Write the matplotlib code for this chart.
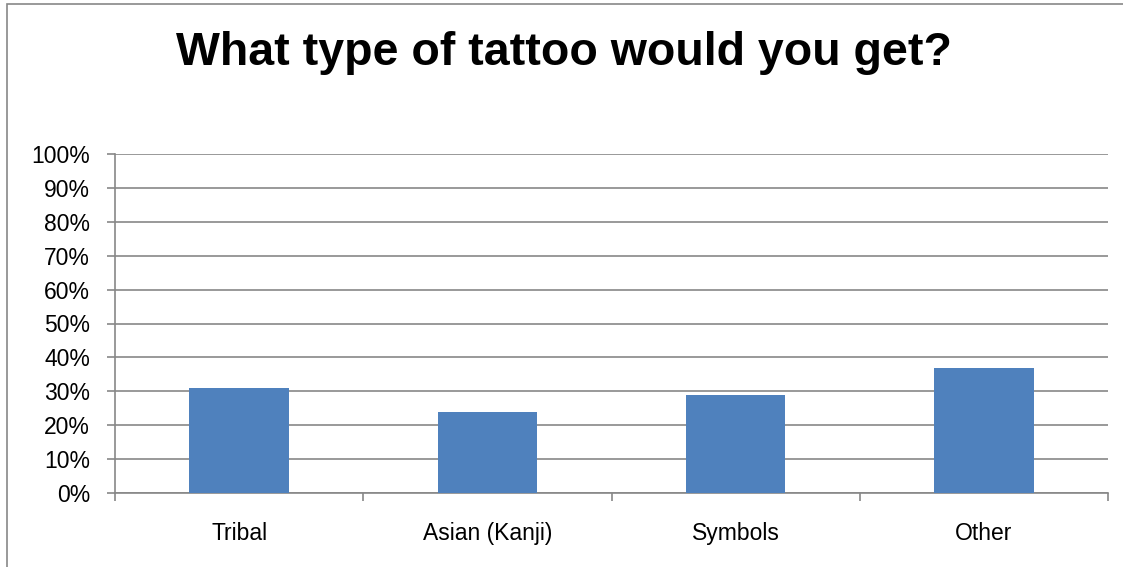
import matplotlib
matplotlib.use("Agg")
import matplotlib.pyplot as plt
from matplotlib.patches import Rectangle
from matplotlib.ticker import FixedLocator, PercentFormatter

categories = ["Tribal", "Asian (Kanji)", "Symbols", "Other"]
shares = [31, 24, 29, 37]
y_ticks = list(range(0, 101, 10))

plt.rcParams['font.family'] = ['Liberation Sans', 'DejaVu Sans']

W, H = 1123, 567
fig = plt.figure(figsize=(W / 100, H / 100), dpi=100)
ax = fig.add_axes([115 / W, 1 - 493 / H, (1108 - 115) / W, (493 - 154) / H])

x = list(range(len(categories)))
ax.bar(x, shares, width=0.4, color="#4f81bd", zorder=3)

ax.set_xlim(-0.5, len(categories) - 0.5)
ax.set_ylim(0, 100)
ax.set_yticks(y_ticks)
ax.yaxis.set_major_formatter(PercentFormatter(decimals=0))
ax.grid(axis="y", color="#878787", linewidth=1.2, zorder=0)

ax.set_xticks(x)
ax.set_xticklabels(categories)
ax.xaxis.set_minor_locator(FixedLocator([i - 0.5 for i in range(len(categories) + 1)]))
ax.tick_params(axis="x", which="major", length=0, pad=21, labelsize=16.5)
ax.tick_params(axis="x", which="minor", length=6, color="#878787", width=1.2)
ax.tick_params(axis="y", length=6, color="#878787", width=1.2, pad=12, labelsize=16.5)

for side in ["top", "right"]:
    ax.spines[side].set_visible(False)
ax.spines["left"].set_color("#878787")
ax.spines["bottom"].set_color("#878787")
ax.spines["left"].set_linewidth(1.2)
ax.spines["bottom"].set_linewidth(1.2)

fig.text(564 / W, 1 - 53 / H, "What type of tattoo would you get?",
         ha="center", va="center", fontsize=33.5, fontweight="bold")

# chart border
fig.add_artist(Rectangle((7 / W, -0.05), 1.1, 1.05 - 4 / H, transform=fig.transFigure,
                         fill=False, edgecolor="#878787", linewidth=1.2, clip_on=False))

fig.savefig("out.png", dpi=100)
